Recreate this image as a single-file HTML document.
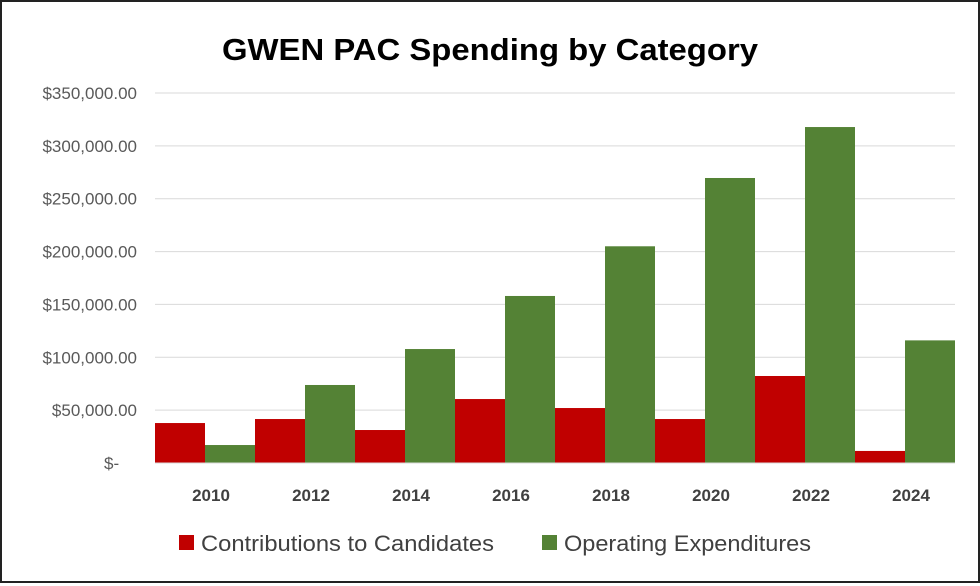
<!DOCTYPE html>
<html><head><meta charset="utf-8"><style>
html,body{margin:0;padding:0;background:#fff;}
#wrap{position:relative;width:980px;height:583px;box-sizing:border-box;border:2px solid #222;background:#fff;font-family:"Liberation Sans",Calibri,sans-serif;}
svg text{font-family:"Liberation Sans",sans-serif;}
</style></head><body>
<div id="wrap">
<svg id="chart" width="976" height="579"></svg>
</div>
<script>
const categories=["2010","2012","2014","2016","2018","2020","2022","2024"];
const contributions=[37800,41600,31200,60500,52000,41600,82300,11400];
const operating=[17000,73800,107800,158000,205000,269600,317800,116000];
const yTicks=[0,50000,100000,150000,200000,250000,300000,350000];
const yTickLabels=["$-","$50,000.00","$100,000.00","$150,000.00","$200,000.00","$250,000.00","$300,000.00","$350,000.00"];
const seriesNames=["Contributions to Candidates","Operating Expenditures"];
const colors=["#c00000","#548235"];

const svg=document.getElementById('chart');
const NS='http://www.w3.org/2000/svg';
const X0=153, X1=953, Y0=461, YTOP=91, YMAX=350000;
function y(v){return Y0-(v/YMAX)*(Y0-YTOP);}
const gw=(X1-X0)/categories.length;
function xg(i){return X0+i*gw;}
function mk(tag,attrs,text){const e=document.createElementNS(NS,tag);for(const k in attrs)e.setAttribute(k,attrs[k]);if(text!=null)e.textContent=text;svg.appendChild(e);return e;}

let t=mk('text',{x:220,y:58,'font-size':31,'font-weight':'bold',fill:'#000',textLength:536,lengthAdjust:'spacingAndGlyphs'},'GWEN PAC Spending by Category');



yTicks.forEach((v,i)=>{
  if(v>0){const g=mk('line',{x1:X0,x2:X1,y1:y(v),y2:y(v),stroke:'#d9d9d9','stroke-width':1});
  
  }
  const attrs=v===0?{x:102,y:y(v)+6,'font-size':17,fill:'#595959'}:{x:135,y:y(v)+6,'text-anchor':'end','font-size':17,fill:'#595959'};
  const l=mk('text',attrs,yTickLabels[i]);
  
  
});

categories.forEach((c,i)=>{
  const bw=gw/2;
  const r=mk('rect',{x:xg(i),y:y(contributions[i]),width:bw,height:Y0-y(contributions[i]),fill:colors[0]});
  
  
  const g=mk('rect',{x:xg(i)+bw,y:y(operating[i]),width:bw,height:Y0-y(operating[i]),fill:colors[1]});
  
  
  const l=mk('text',{x:xg(i)+gw/2+6,y:Y0+38,'text-anchor':'middle','font-size':17,'font-weight':'bold',fill:'#404040'},c);
  
  
});
const ax=mk('line',{x1:X0,x2:X1,y1:Y0,y2:Y0,stroke:'#d9d9d9','stroke-width':1});



const lx=[177,540];
const lw=[293,247];
seriesNames.forEach((n,i)=>{
  const s=mk('rect',{x:lx[i],y:533,width:15,height:15,fill:colors[i]});
  
  
  const l=mk('text',{x:lx[i]+22,y:549,'font-size':22,fill:'#404040',textLength:lw[i],lengthAdjust:'spacingAndGlyphs'},n);
  
  
});
</script>
</body></html>
